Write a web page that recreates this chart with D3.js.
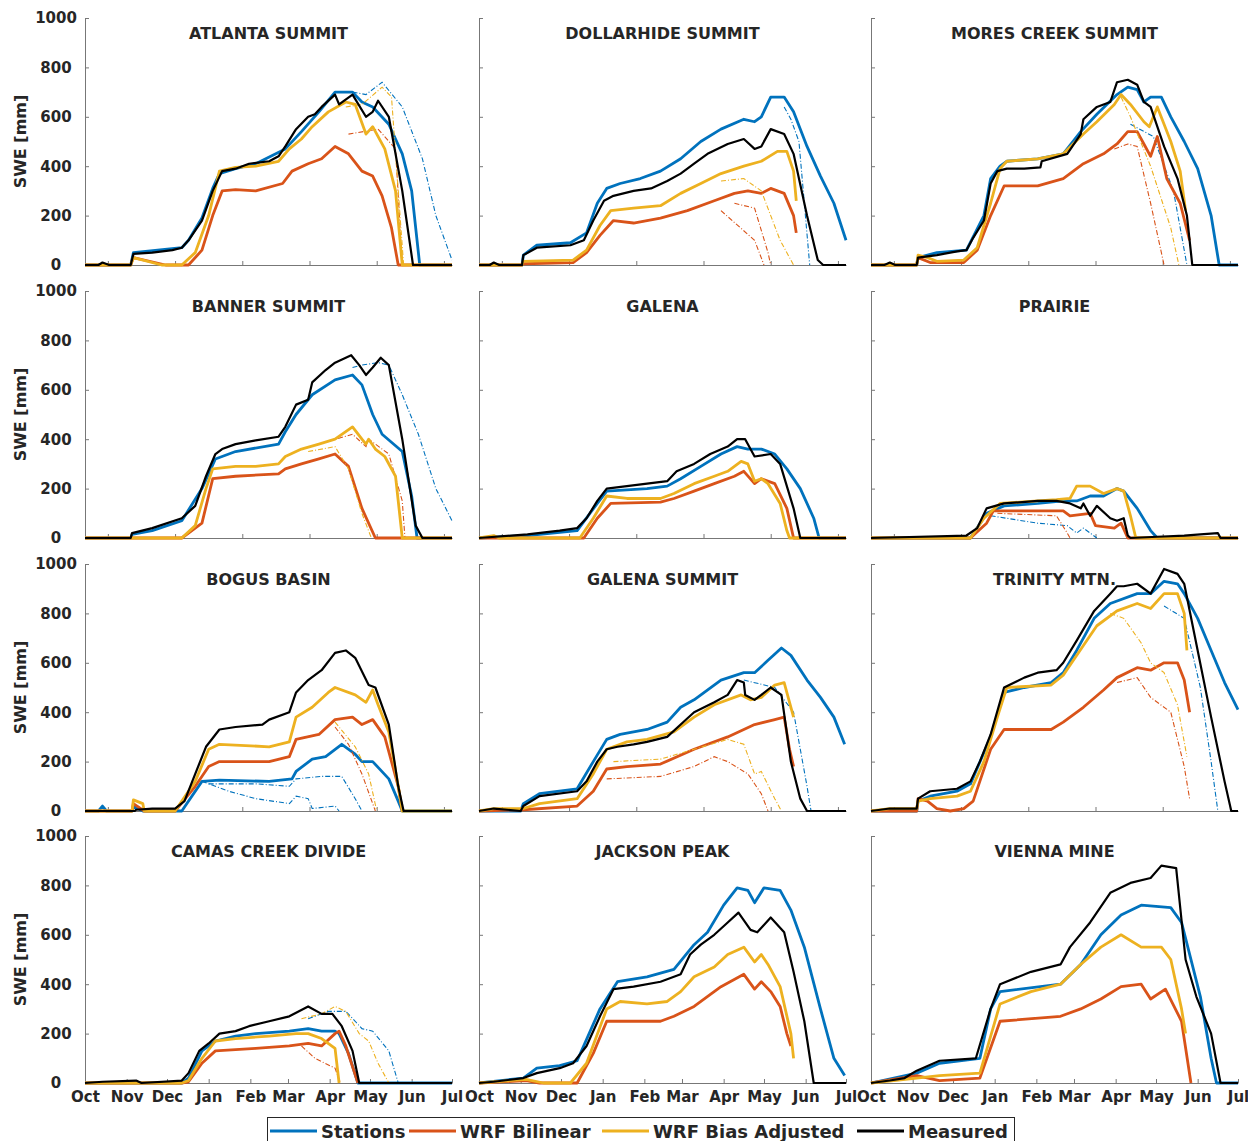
<!DOCTYPE html>
<html>
<head>
<meta charset="utf-8">
<script src="https://cdn.jsdelivr.net/npm/d3@7"></script>
<style>
  body { margin: 0; background: #fff; }
  text { font-family: "DejaVu Sans", sans-serif; font-weight: bold; fill: #262626; }
</style>
</head>
<body>
<script>
// Values are [day since Oct 1, SWE mm]

// ATLANTA SUMMIT
var atlantaMeasured = [[0,0],[10,0],[13,10],[18,0],[34,0],[36,45],[50,50],[65,60],[72,70],[77,100],[87,180],[95,300],[102,380],[112,390],[122,410],[137,420],[144,440],[149,480],[157,550],[166,600],[171,610],[176,640],[186,690],[189,650],[199,690],[209,600],[214,620],[218,665],[226,600],[236,300],[244,0],[273,0]];
var atlantaStations = [[0,0],[34,0],[36,50],[72,70],[77,100],[87,190],[95,310],[100,370],[112,390],[127,410],[149,470],[161,540],[174,620],[186,700],[199,700],[206,660],[214,640],[226,570],[236,450],[243,300],[249,0],[273,0]];
var atlantaStationsAlt = [[199,700],[209,690],[221,740],[236,640],[251,430],[261,200],[273,20]];
var atlantaBiasAdj = [[0,0],[34,0],[36,30],[57,0],[72,0],[82,50],[92,200],[100,380],[112,395],[127,400],[144,420],[152,470],[161,510],[169,560],[181,620],[194,660],[201,650],[209,530],[214,560],[223,470],[231,300],[236,0],[273,0]];
var atlantaBiasAdjAlt = [[194,640],[206,650],[221,720],[228,680],[237,0]];
var atlantaBilinear = [[0,0],[34,0],[36,30],[60,0],[77,0],[87,60],[95,200],[102,300],[112,305],[127,300],[147,330],[154,380],[166,410],[176,430],[186,480],[196,450],[206,380],[214,360],[221,280],[228,150],[233,0],[273,0]];
var atlantaBilinearAlt = [[196,530],[218,550],[231,470],[236,0]];

// DOLLARHIDE SUMMIT
var dollarMeasured = [[0,0],[8,0],[11,10],[15,0],[32,0],[33,40],[43,70],[68,80],[78,100],[85,180],[93,260],[100,280],[115,300],[128,310],[140,340],[150,370],[160,410],[170,450],[185,490],[197,510],[205,470],[210,480],[217,550],[227,530],[234,450],[244,200],[252,20],[256,0],[273,0]];
var dollarStations = [[0,0],[32,0],[33,40],[43,80],[68,90],[80,130],[88,250],[95,310],[105,330],[120,350],[135,380],[150,430],[165,500],[180,550],[197,590],[205,580],[210,600],[217,680],[227,680],[234,620],[244,480],[254,360],[264,250],[273,100]];
var dollarStationsAlt = [[227,640],[232,590],[238,500],[246,0]];
var dollarBiasAdj = [[0,0],[32,0],[33,15],[70,20],[80,60],[90,160],[98,220],[115,230],[135,240],[150,290],[165,330],[180,370],[197,400],[210,420],[222,460],[229,460],[234,380],[236,260]];
var dollarBiasAdjAlt = [[180,340],[197,350],[210,300],[224,100],[234,0]];
var dollarBilinear = [[0,0],[32,0],[33,5],[70,10],[80,50],[90,120],[100,180],[115,170],[135,190],[155,220],[175,260],[190,290],[200,300],[210,290],[217,310],[227,290],[234,200],[236,130]];
var dollarBilinearAlt = [[190,250],[205,230],[215,50],[217,0]];
var dollarBilinearAlt2 = [[180,220],[205,100],[212,0]];

// MORES CREEK SUMMIT
var moresMeasured = [[0,0],[10,0],[14,10],[18,0],[34,0],[35,30],[49,40],[64,55],[71,60],[76,110],[84,180],[89,330],[94,380],[101,390],[114,390],[126,395],[127,420],[146,450],[156,530],[158,590],[168,640],[178,660],[183,740],[191,750],[198,730],[203,660],[208,640],[218,480],[228,350],[235,200],[239,0],[273,0]];
var moresStations = [[0,0],[34,0],[35,30],[49,50],[71,60],[84,200],[89,350],[96,400],[101,420],[124,430],[143,450],[156,540],[168,610],[183,690],[191,720],[198,710],[203,660],[208,680],[216,680],[223,600],[233,500],[243,390],[253,200],[259,0],[273,0]];
var moresStationsAlt = [[193,570],[210,520],[225,300],[235,0]];
var moresBiasAdj = [[0,0],[34,0],[35,40],[42,30],[49,15],[69,20],[79,70],[89,250],[96,390],[101,420],[124,430],[143,450],[158,530],[168,580],[181,650],[186,690],[193,650],[203,580],[207,560],[213,640],[223,500],[230,380],[234,220]];
var moresBiasAdjAlt = [[186,680],[193,600],[208,400],[223,150],[229,0]];
var moresBilinear = [[0,0],[34,0],[35,30],[44,10],[69,10],[79,60],[89,200],[99,320],[124,320],[143,350],[158,410],[173,450],[183,490],[191,540],[198,540],[203,490],[208,440],[213,520],[220,350],[230,250],[237,100]];
var moresBilinearAlt = [[181,470],[191,490],[198,480],[208,250],[218,0]];

// BANNER SUMMIT
var bannerMeasured = [[0,0],[34,0],[35,20],[50,40],[72,80],[82,130],[90,250],[97,340],[102,360],[112,380],[127,395],[144,410],[149,450],[157,540],[166,560],[169,630],[179,680],[186,710],[198,740],[204,700],[209,660],[214,690],[220,730],[226,700],[236,400],[246,50],[251,0],[273,0]];
var bannerStations = [[0,0],[34,0],[35,15],[50,30],[72,70],[87,200],[97,320],[112,350],[144,380],[149,430],[157,500],[169,580],[186,640],[199,660],[206,620],[214,500],[221,420],[236,350],[243,170],[247,0],[273,0]];
var bannerStationsAlt = [[199,690],[206,700],[218,710],[226,700],[236,580],[248,420],[261,200],[273,70]];
var bannerBiasAdj = [[0,0],[72,0],[82,50],[90,200],[95,280],[112,290],[127,290],[144,300],[149,330],[161,360],[174,380],[186,400],[199,450],[206,400],[209,380],[211,400],[216,360],[223,330],[231,250],[236,0],[273,0]];
var bannerBiasAdjAlt = [[166,350],[186,370],[196,280],[206,100],[213,0]];
var bannerBilinear = [[0,0],[72,0],[87,60],[95,240],[112,250],[144,260],[149,280],[161,300],[174,320],[186,340],[196,290],[206,120],[216,0],[273,0]];
var bannerBilinearAlt = [[174,380],[199,420],[209,370],[211,400],[226,340],[236,150],[238,0]];

// GALENA
var galenaMeasured = [[0,0],[36,15],[60,30],[73,40],[80,80],[88,150],[95,200],[110,210],[125,220],[140,230],[147,270],[160,300],[172,340],[185,370],[192,400],[198,400],[205,330],[217,340],[224,300],[234,120],[239,0],[273,0]];
var galenaStations = [[0,0],[36,10],[73,30],[88,140],[95,190],[125,200],[140,210],[150,240],[165,290],[180,340],[192,370],[200,360],[210,360],[220,340],[229,280],[239,200],[249,80],[253,0],[273,0]];
var galenaBiasAdj = [[0,0],[11,10],[15,0],[75,0],[85,80],[95,170],[110,160],[135,160],[145,180],[160,220],[175,250],[185,270],[195,310],[200,300],[205,230],[210,240],[215,220],[224,140],[229,30],[231,0],[273,0]];
var galenaBilinear = [[0,0],[78,0],[88,80],[98,140],[135,145],[145,160],[160,190],[175,220],[190,250],[197,270],[205,220],[210,240],[220,220],[229,120],[234,0],[273,0]];

// PRAIRIE
var prairieMeasured = [[0,0],[71,10],[79,40],[86,120],[99,140],[124,150],[138,150],[148,140],[156,120],[158,140],[163,90],[168,130],[178,80],[183,70],[188,80],[191,10],[193,0],[213,5],[233,10],[245,15],[258,20],[260,0],[273,0]];
var prairieStations = [[0,0],[74,0],[86,100],[99,130],[124,140],[143,150],[153,150],[163,170],[173,170],[183,200],[188,190],[198,120],[208,30],[213,0],[273,0]];
var prairieStationsAlt = [[89,90],[124,60],[146,50],[153,20],[158,40],[168,0]];
var prairieBiasAdj = [[0,0],[74,0],[84,80],[96,140],[124,150],[138,155],[148,160],[153,210],[163,210],[173,180],[183,200],[188,190],[193,90],[197,0],[273,0]];
var prairieBilinear = [[0,0],[74,0],[86,60],[91,110],[143,110],[148,90],[163,100],[167,50],[181,40],[186,60],[191,0],[273,0]];
var prairieBilinearAlt = [[94,100],[138,90],[146,20],[148,0]];

// BOGUS BASIN
var bogusMeasured = [[0,0],[37,0],[38,5],[50,10],[67,10],[74,40],[82,150],[90,260],[100,330],[112,340],[132,350],[137,370],[152,400],[157,480],[166,530],[176,570],[186,640],[194,650],[201,620],[211,510],[216,500],[226,350],[233,100],[237,0],[273,0]];
var bogusStations = [[0,0],[10,0],[13,20],[16,0],[35,0],[36,20],[43,0],[72,0],[87,120],[100,125],[137,120],[154,130],[157,160],[169,210],[179,220],[191,270],[201,230],[206,200],[214,200],[226,130],[233,40],[236,0],[273,0]];
var bogusStationsAlt = [[87,120],[107,80],[127,50],[152,30],[157,60],[166,50],[169,10],[186,20],[189,0]];
var bogusStationsAlt2 = [[92,110],[127,110],[152,100],[157,130],[176,140],[191,140],[201,50],[206,0]];
var bogusBiasAdj = [[0,0],[35,0],[36,45],[43,30],[44,0],[67,0],[82,120],[92,250],[100,270],[137,260],[152,280],[157,380],[169,420],[181,480],[186,500],[201,470],[209,440],[214,490],[218,430],[226,320],[233,100],[236,0],[273,0]];
var bogusBiasAdjAlt = [[186,360],[201,260],[211,150],[217,0]];
var bogusBilinear = [[0,0],[35,0],[36,30],[44,0],[67,0],[82,100],[92,180],[100,200],[137,200],[152,220],[157,290],[174,310],[186,370],[199,380],[206,350],[214,370],[223,300],[233,100],[236,0]];
var bogusBilinearAlt = [[186,340],[196,270],[206,150],[216,0]];

// GALENA SUMMIT
var gsMeasured = [[0,0],[11,10],[31,0],[33,20],[45,60],[73,80],[80,120],[88,200],[95,250],[103,260],[115,270],[125,280],[140,300],[150,350],[160,400],[175,440],[185,470],[192,530],[197,520],[198,470],[205,450],[210,470],[217,500],[225,470],[232,200],[239,50],[244,0],[273,0]];
var gsStations = [[0,0],[31,0],[33,30],[45,70],[73,90],[85,200],[95,290],[105,310],[125,330],[140,360],[150,420],[160,450],[180,530],[197,560],[205,560],[215,610],[225,660],[232,630],[244,530],[254,460],[264,380],[272,270]];
var gsStationsAlt = [[197,530],[220,500],[234,400],[244,100],[247,0]];
var gsBiasAdj = [[0,0],[11,10],[33,10],[45,30],[73,50],[85,150],[95,250],[110,280],[125,290],[145,320],[160,380],[175,430],[195,470],[202,450],[210,460],[220,510],[227,520],[234,380]];
var gsBiasAdjAlt = [[100,200],[135,210],[160,250],[185,290],[197,270],[205,150],[210,160],[220,50],[225,0]];
var gsBilinear = [[0,0],[33,5],[73,20],[85,80],[95,170],[110,180],[135,190],[160,250],[185,300],[205,350],[220,370],[227,380],[231,250],[234,180]];
var gsBilinearAlt = [[95,130],[135,140],[160,180],[175,220],[185,200],[200,150],[210,70],[215,0]];

// TRINITY MTN.
var trinityMeasured = [[0,0],[14,10],[34,10],[35,50],[44,80],[64,90],[74,120],[81,200],[89,310],[99,500],[114,540],[124,560],[138,570],[143,600],[153,690],[166,810],[178,880],[183,910],[188,910],[198,920],[208,880],[218,980],[228,960],[233,920],[243,650],[253,380],[263,120],[268,0],[273,0]];
var trinityStations = [[0,0],[34,0],[35,40],[44,60],[64,80],[74,110],[89,300],[99,480],[114,500],[134,520],[143,560],[153,650],[166,780],[178,840],[198,880],[208,880],[218,930],[228,920],[233,880],[243,780],[253,650],[263,520],[273,410]];
var trinityStationsAlt = [[218,830],[233,780],[245,500],[253,200],[258,0]];
var trinityBiasAdj = [[0,0],[14,10],[34,10],[35,40],[44,50],[64,60],[74,80],[84,200],[94,380],[101,500],[134,510],[143,550],[158,670],[168,750],[183,810],[198,840],[208,820],[218,880],[228,880],[233,800],[235,650]];
var trinityBiasAdjAlt = [[178,800],[188,780],[201,680],[208,600],[218,560],[228,430],[235,220]];
var trinityBilinear = [[0,0],[34,0],[35,50],[42,40],[49,10],[59,0],[69,10],[76,40],[89,250],[99,330],[114,330],[134,330],[143,360],[158,420],[173,490],[183,540],[198,580],[208,570],[218,600],[228,600],[233,530],[237,400]];
var trinityBilinearAlt = [[183,520],[198,540],[208,460],[223,400],[233,180],[237,50]];

// CAMAS CREEK DIVIDE
var camasMeasured = [[0,0],[13,5],[38,10],[42,0],[72,10],[77,40],[85,130],[92,160],[100,200],[112,210],[122,230],[137,250],[152,270],[166,310],[176,280],[184,280],[191,230],[199,130],[204,0],[273,0]];
var camasStations = [[0,0],[72,0],[77,20],[87,130],[97,170],[112,190],[127,200],[152,210],[166,220],[176,210],[186,210],[189,200],[196,120],[203,0],[273,0]];
var camasStationsAlt = [[166,260],[181,290],[194,290],[201,250],[206,220],[214,210],[226,130],[233,0]];
var camasBiasAdj = [[0,0],[72,0],[77,10],[87,100],[97,170],[112,180],[137,190],[157,200],[166,200],[176,180],[186,140],[189,0]];
var camasBiasAdjAlt = [[161,260],[176,280],[186,310],[194,290],[204,200],[211,170],[218,80],[226,0]];
var camasBilinear = [[0,0],[72,0],[77,5],[87,80],[97,130],[127,140],[152,150],[166,160],[176,150],[186,200],[189,210],[194,150],[203,0]];
var camasBilinearAlt = [[161,150],[171,100],[186,60],[190,0]];

// JACKSON PEAK
var jacksonMeasured = [[0,0],[11,5],[33,20],[43,40],[60,60],[70,80],[80,150],[90,270],[100,380],[115,390],[135,410],[150,440],[157,520],[165,560],[175,600],[185,650],[193,690],[202,620],[207,610],[217,670],[227,610],[234,450],[242,250],[249,0],[273,0]];
var jacksonStations = [[0,0],[33,20],[43,60],[60,70],[73,90],[90,300],[103,410],[125,430],[145,460],[160,560],[170,610],[182,720],[192,790],[200,780],[205,730],[212,790],[224,780],[232,700],[242,550],[254,300],[264,100],[272,30]];
var jacksonBiasAdj = [[0,0],[35,15],[48,0],[68,0],[80,80],[95,300],[105,330],[125,320],[140,330],[150,370],[160,430],[175,470],[185,520],[197,550],[205,490],[210,520],[215,480],[224,390],[232,200],[234,100]];
var jacksonBilinear = [[0,0],[35,10],[45,0],[73,0],[85,120],[95,250],[110,250],[135,250],[145,270],[160,310],[180,390],[197,440],[205,380],[210,410],[217,370],[224,310],[229,200],[232,150]];

// VIENNA MINE
var viennaMeasured = [[0,0],[14,10],[25,20],[34,50],[51,90],[78,100],[89,300],[96,400],[119,450],[141,480],[148,550],[163,650],[178,770],[193,810],[208,830],[216,880],[227,870],[234,500],[242,350],[253,200],[260,0],[273,0]];
var viennaStations = [[0,0],[34,40],[51,80],[81,100],[89,300],[96,370],[141,400],[156,480],[171,600],[186,680],[201,720],[223,710],[231,650],[245,350],[253,100],[257,0],[273,0]];
var viennaBiasAdj = [[0,0],[34,20],[51,30],[81,40],[96,320],[119,370],[141,400],[156,480],[171,550],[186,600],[201,550],[216,550],[223,500],[231,300],[234,200]];
var viennaBilinear = [[0,0],[34,30],[51,10],[81,20],[96,250],[141,270],[156,300],[171,340],[186,390],[201,400],[208,340],[219,380],[231,250],[238,0]];

var seriesNames = ["Stations", "WRF Bilinear", "WRF Bias Adjusted", "Measured"];
var seriesColors = ["#0072BD", "#D95319", "#EDB120", "#000000"];
var monthLabels = ["Oct", "Nov", "Dec", "Jan", "Feb", "Mar", "Apr", "May", "Jun", "Jul"];
var monthDays = [0, 31, 61, 92, 123, 151, 182, 212, 243, 273];
var upperTickDays = [17, 67, 117, 167, 217, 267];
var yTicks = [0, 200, 400, 600, 800, 1000];

// panel list (row-major), main = [stations, bilinear, biasAdj, measured], alt = [data, seriesIndex]
var panels = [
  { title: "ATLANTA SUMMIT", main: [atlantaStations, atlantaBilinear, atlantaBiasAdj, atlantaMeasured],
    alt: [[atlantaStationsAlt, 0], [atlantaBilinearAlt, 1], [atlantaBiasAdjAlt, 2]] },
  { title: "DOLLARHIDE SUMMIT", main: [dollarStations, dollarBilinear, dollarBiasAdj, dollarMeasured],
    alt: [[dollarStationsAlt, 0], [dollarBilinearAlt, 1], [dollarBilinearAlt2, 1], [dollarBiasAdjAlt, 2]] },
  { title: "MORES CREEK SUMMIT", main: [moresStations, moresBilinear, moresBiasAdj, moresMeasured],
    alt: [[moresStationsAlt, 0], [moresBilinearAlt, 1], [moresBiasAdjAlt, 2]] },
  { title: "BANNER SUMMIT", main: [bannerStations, bannerBilinear, bannerBiasAdj, bannerMeasured],
    alt: [[bannerStationsAlt, 0], [bannerBilinearAlt, 1], [bannerBiasAdjAlt, 2]] },
  { title: "GALENA", main: [galenaStations, galenaBilinear, galenaBiasAdj, galenaMeasured], alt: [] },
  { title: "PRAIRIE", main: [prairieStations, prairieBilinear, prairieBiasAdj, prairieMeasured],
    alt: [[prairieStationsAlt, 0], [prairieBilinearAlt, 1]] },
  { title: "BOGUS BASIN", main: [bogusStations, bogusBilinear, bogusBiasAdj, bogusMeasured],
    alt: [[bogusStationsAlt, 0], [bogusStationsAlt2, 0], [bogusBilinearAlt, 1], [bogusBiasAdjAlt, 2]] },
  { title: "GALENA SUMMIT", main: [gsStations, gsBilinear, gsBiasAdj, gsMeasured],
    alt: [[gsStationsAlt, 0], [gsBilinearAlt, 1], [gsBiasAdjAlt, 2]] },
  { title: "TRINITY MTN.", main: [trinityStations, trinityBilinear, trinityBiasAdj, trinityMeasured],
    alt: [[trinityStationsAlt, 0], [trinityBilinearAlt, 1], [trinityBiasAdjAlt, 2]] },
  { title: "CAMAS CREEK DIVIDE", main: [camasStations, camasBilinear, camasBiasAdj, camasMeasured],
    alt: [[camasStationsAlt, 0], [camasBilinearAlt, 1], [camasBiasAdjAlt, 2]] },
  { title: "JACKSON PEAK", main: [jacksonStations, jacksonBilinear, jacksonBiasAdj, jacksonMeasured], alt: [] },
  { title: "VIENNA MINE", main: [viennaStations, viennaBilinear, viennaBiasAdj, viennaMeasured], alt: [] }
];

// Layout
var svgWidth = 1248;
var svgHeight = 1141;
var colLeft = [85, 479, 871];
var rowTop = [18, 291, 564, 836];
var plotW = 367;
var plotH = 247;

var svg = d3.select("body")
  .append("svg")
  .attr("width", svgWidth)
  .attr("height", svgHeight);

var xScale = d3.scaleLinear().domain([0, 273]).range([0, plotW]);
var yScale = d3.scaleLinear().domain([0, 1000]).range([plotH, 0]);

var line = d3.line()
  .x(function (d) { return xScale(d[0]); })
  .y(function (d) { return yScale(d[1]); });

panels.forEach(function (p, i) {
  var col = i % 3;
  var row = Math.floor(i / 3);
  var g = svg.append("g")
    .attr("transform", "translate(" + colLeft[col] + "," + rowTop[row] + ")");

  // y axis (labels only on the left column, centred like the original)
  var leftAxis = d3.axisLeft(yScale)
    .tickValues(yTicks)
    .tickSizeInner(-4)
    .tickSizeOuter(0)
    .tickFormat(col > 0 ? "" : d3.format("d"));
  var ya = g.append("g").call(leftAxis);
  ya.selectAll("text")
    .attr("x", -29)
    .attr("text-anchor", "middle")
    .style("font-size", "15px")
    .style("font-family", "DejaVu Sans")
    .attr("fill", "#262626");

  // x axis
  var bottomAxis = d3.axisBottom(xScale)
    .tickSizeInner(-4)
    .tickSizeOuter(0)
    .tickPadding(8);
  if (row === 3) {
    bottomAxis.tickValues(monthDays).tickFormat(function (d, k) { return monthLabels[k]; });
  } else {
    bottomAxis.tickValues(upperTickDays).tickFormat("");
  }
  var xa = g.append("g")
    .attr("transform", "translate(0," + plotH + ")")
    .call(bottomAxis);
  xa.selectAll("text").style("font-size", "15px").style("font-family", "DejaVu Sans").attr("fill", "#262626");

  [ya, xa].forEach(function (a) {
    a.select(".domain").attr("stroke", "#777");
    a.selectAll(".tick line").attr("stroke", "#777");
  });

  // lines: alternates (thin dash-dot) beneath each main series
  for (var k = 0; k < 4; k++) {
    p.alt.filter(function (a) { return a[1] === k; }).forEach(function (a) {
      g.append("path")
        .datum(a[0])
        .attr("d", line)
        .attr("fill", "none")
        .attr("stroke", seriesColors[k])
        .attr("stroke-width", 1.1)
        .attr("stroke-dasharray", "5,2,1,2");
    });
    g.append("path")
      .datum(p.main[k])
      .attr("d", line)
      .attr("fill", "none")
      .attr("stroke", seriesColors[k])
      .attr("stroke-width", k === 3 ? 2.2 : 2.8)
      .attr("stroke-linejoin", "round");
  }

  // title
  g.append("text")
    .attr("x", plotW / 2)
    .attr("y", 21)
    .attr("text-anchor", "middle")
    .style("font-size", "16px")
    .text(p.title);

  // y label
  if (col === 0) {
    g.append("text")
      .attr("transform", "translate(-59," + (plotH / 2) + ") rotate(-90)")
      .attr("text-anchor", "middle")
      .style("font-size", "16px")
      .text("SWE [mm]");
  }
});

// Legend
var legend = svg.append("g");
legend.append("rect")
  .attr("x", 267.5)
  .attr("y", 1117.5)
  .attr("width", 747)
  .attr("height", 30)
  .attr("fill", "#fff")
  .attr("stroke", "#262626")
  .attr("stroke-width", 1);

var legendLineX = [270, 409, 602, 857];
seriesNames.forEach(function (name, k) {
  legend.append("line")
    .attr("x1", legendLineX[k])
    .attr("x2", legendLineX[k] + 47)
    .attr("y1", 1131)
    .attr("y2", 1131)
    .attr("stroke", seriesColors[k])
    .attr("stroke-width", 3);
  legend.append("text")
    .attr("x", legendLineX[k] + 51)
    .attr("y", 1138)
    .style("font-size", "18px")
    .text(name);
});
</script>
</body>
</html>
